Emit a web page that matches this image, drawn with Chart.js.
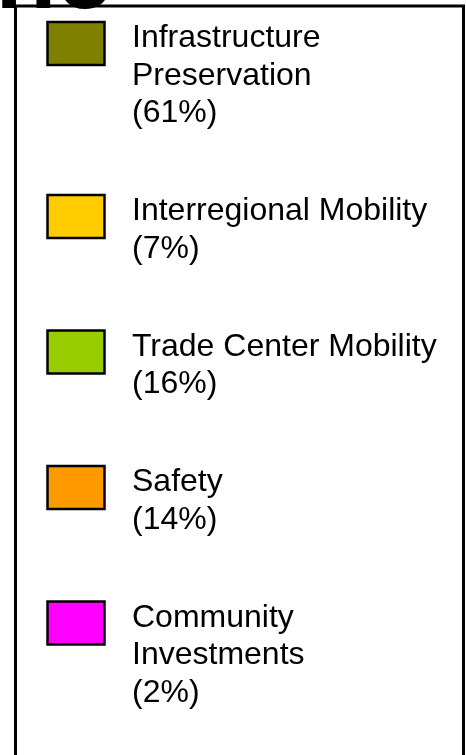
<!DOCTYPE html>
<html>
<head>
<meta charset="utf-8">
<script src="https://cdn.jsdelivr.net/npm/chart.js@4/dist/chart.umd.min.js"></script>
<style>
  html, body { margin: 0; padding: 0; background: #fff; overflow: hidden; }
  #wrap { position: absolute; left: 0; top: -600px; width: 466px; height: 1355px; }
</style>
</head>
<body>
<div id="wrap"><canvas id="myPieChart"></canvas></div>
<script>
// Funding categories
var categories = [
  "Infrastructure Preservation",
  "Interregional Mobility",
  "Trade Center Mobility",
  "Safety",
  "Community Investments",
];

// Share of program (%)
var shares = [61, 7, 16, 14, 2];

var sliceColors = ["#808000", "#FFCC00", "#99CC00", "#FF9900", "#FF00FF"];

var chartTitle = "Baseline";

// page is shifted up, the pie sits above the visible window
var OFFSET = 600;

// draws the boxed legend (and the cut-off title) like the original slide
var boxLegend = {
  id: "boxLegend",
  afterDraw: function (chart) {
    var ctx = chart.ctx;
    var items = chart.options.plugins.legend.labels.generateLabels(chart);
    var total = shares.reduce(function (a, b) { return a + b; }, 0);

    ctx.save();

    // frame
    ctx.strokeStyle = "#000";
    ctx.lineWidth = 3;
    ctx.strokeRect(15.5, OFFSET + 6, 448, 900);

    // title, only its foot shows
    ctx.fillStyle = "#000";
    ctx.font = "bold 100px 'Liberation Sans', Arial, sans-serif";
    ctx.textAlign = "right";
    ctx.textBaseline = "alphabetic";
    ctx.fillText(chartTitle, 112, OFFSET + 8);

    ctx.font = "32px 'Liberation Sans', Arial, sans-serif";
    ctx.textAlign = "left";

    var lineH = 37.5;
    var gap = 60.5;
    var y = OFFSET + 47;
    var maxW = 318;

    items.forEach(function (item, i) {
      // wrap label words
      var words = item.text.split(" ");
      var lines = [];
      var cur = "";
      words.forEach(function (w) {
        var test = cur ? cur + " " + w : w;
        if (cur && ctx.measureText(test).width > maxW) {
          lines.push(cur);
          cur = w;
        } else {
          cur = test;
        }
      });
      lines.push(cur);
      lines.push("(" + Math.round(shares[i] / total * 100) + "%)");

      // swatch
      ctx.fillStyle = item.fillStyle;
      ctx.fillRect(47.5, y - 25, 57, 43);
      ctx.strokeStyle = "#000";
      ctx.lineWidth = 2.5;
      ctx.strokeRect(47.5, y - 25, 57, 43);

      ctx.fillStyle = "#000";
      lines.forEach(function (ln, k) {
        ctx.fillText(ln, 132, y + k * lineH);
      });

      y += lines.length * lineH + gap;
    });

    ctx.restore();
  },
};

new Chart("myPieChart", {
  type: "pie",
  data: {
    labels: categories,
    datasets: [
      {
        data: shares,
        backgroundColor: sliceColors,
        borderColor: "#000",
        borderWidth: 1,
      },
    ],
  },
  options: {
    responsive: true,
    maintainAspectRatio: false,
    animation: false,
    layout: {
      padding: { top: 20, bottom: 770, left: 20, right: 20 },
    },
    plugins: {
      legend: {
        display: false,
      },
      tooltip: {
        enabled: false,
      },
    },
  },
  plugins: [boxLegend],
});
</script>
</body>
</html>
